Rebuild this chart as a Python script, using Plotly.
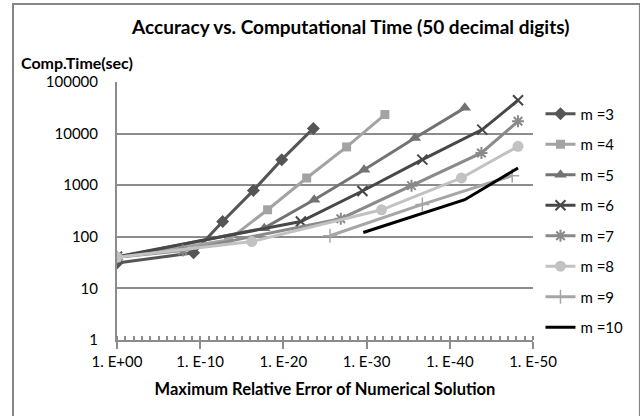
import plotly.graph_objects as go

# Accuracy expressed as digits: x = -log10(max relative error)
m3_digits = [0, 9.2, 12.7, 16.4, 19.8, 23.6]
m3_time = [31, 49, 198, 793, 3126, 12620]
m4_digits = [0, 13.4, 18.1, 22.8, 27.6, 32.2]
m4_time = [40, 87, 334, 1380, 5520, 23400]
m5_digits = [0, 17.7, 23.7, 29.7, 35.8, 41.8]
m5_time = [40, 147, 524, 1995, 8250, 31550]
m6_digits = [0, 22.1, 29.5, 36.7, 43.9, 48.2]
m6_time = [41, 198, 771, 3126, 11960, 44300]
m7_digits = [0, 7.9, 26.9, 35.4, 43.8, 48.2]
m7_time = [40, 54, 224, 980, 4220, 17300]
m8_digits = [0, 16.2, 31.8, 41.4, 48.2]
m8_time = [40, 81, 334, 1380, 5670]
m9_digits = [25.6, 36.7, 47.5]
m9_time = [105, 424, 1530]
m10_digits = [29.6, 41.8, 48.2]
m10_time = [121, 524, 2160]

x_tickvals = [0, 10, 20, 30, 40, 50]
x_ticktext = ["1. E+00", "1. E-10", "1. E-20", "1. E-30", "1. E-40", "1. E-50"]
y_tickvals = [1, 10, 100, 1000, 10000, 100000]
y_ticktext = ["1", "10", "100", "1000", "10000", "100000"]

series = [
    ("m =3", m3_digits, m3_time, "#555555", dict(symbol="diamond", size=10)),
    ("m =4", m4_digits, m4_time, "#a3a3a3", dict(symbol="square", size=9)),
    ("m =5", m5_digits, m5_time, "#737373", dict(symbol="triangle-up", size=11)),
    ("m =6", m6_digits, m6_time, "#474747", dict(symbol="x-thin", size=10, line=dict(width=2, color="#474747"))),
    ("m =7", m7_digits, m7_time, "#8a8a8a", dict(symbol="asterisk", size=10, line=dict(width=2, color="#8a8a8a"))),
    ("m =8", m8_digits, m8_time, "#c2c2c2", dict(symbol="circle", size=11)),
    ("m =9", m9_digits, m9_time, "#a6a6a6", dict(symbol="cross-thin", size=10, line=dict(width=1.5, color="#a6a6a6"))),
    ("m =10", m10_digits, m10_time, "#000000", None),
]

FONT = "Lato"
fig = go.Figure()
for i, (name, xs, ys, col, mk) in enumerate(series):
    if mk is None:
        fig.add_trace(go.Scatter(x=xs, y=ys, name=name, mode="lines",
                                 line=dict(color=col, width=3), legendgroup=str(i)))
    else:
        m = dict(color=col)
        m.update(mk)
        fig.add_trace(go.Scatter(x=xs, y=ys, name=name, mode="lines+markers",
                                 line=dict(color=col, width=3), marker=m, legendgroup=str(i)))

fig.update_layout(
    width=640, height=416,
    margin=dict(l=117, r=91, t=82, b=76),
    paper_bgcolor="white", plot_bgcolor="white",
    font=dict(family=FONT, size=15, color="#000000"),
    title=dict(text="<b>Accuracy vs. Computational Time (50 decimal digits)</b>",
               x=0.548, xanchor="center", y=0.935, yanchor="middle",
               font=dict(family=FONT, size=19, color="#000000")),
    legend=dict(x=1.018, xanchor="left", y=0.94, yanchor="top",
                font=dict(family=FONT, size=15), tracegroupgap=8,
                bgcolor="rgba(0,0,0,0)", itemwidth=30),
    showlegend=True,
)
fig.update_xaxes(range=[0, 50], tickvals=x_tickvals, ticktext=x_ticktext,
                 showgrid=False, showline=True, linecolor="#8c8c8c", linewidth=2,
                 ticks="outside", ticklen=7, tickcolor="#8c8c8c", tickwidth=2,
                 minor=dict(dtick=1, ticks="inside", ticklen=4, tickcolor="#8c8c8c", tickwidth=2),
                 zeroline=False, tickfont=dict(size=15),
                 title=dict(text="<b>Maximum Relative Error of Numerical Solution</b>",
                            font=dict(size=16.5), standoff=14))
fig.update_yaxes(type="log", range=[0, 5], tickvals=y_tickvals, ticktext=y_ticktext,
                 showgrid=True, gridcolor="#8c8c8c", gridwidth=1.5,
                 showline=True, linecolor="#8c8c8c", linewidth=2,
                 ticks="", ticklabelstandoff=14, tickfont=dict(size=15), zeroline=False)

fig.add_annotation(text="<b>Comp.Time(sec)</b>", xref="paper", yref="paper",
                   x=(15 - 117) / 432, xanchor="left", y=(340 - 62) / 258, yanchor="middle",
                   showarrow=False, font=dict(size=16))
# chart frame (cropped)
fig.add_shape(type="rect", xref="paper", yref="paper",
              x0=(9 - 117) / 432, x1=(660 - 117) / 432,
              y0=(340 - 430) / 258, y1=(340 - 4) / 258,
              line=dict(color="#868686", width=2), fillcolor="rgba(0,0,0,0)", layer="below")

fig.write_html("out.html")
